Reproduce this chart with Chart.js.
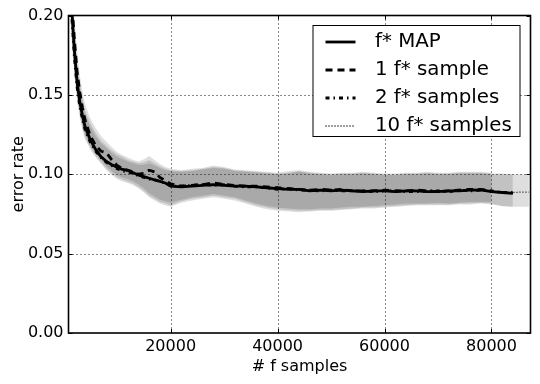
<!DOCTYPE html>
<html><head><meta charset="utf-8">
<script src="https://cdn.jsdelivr.net/npm/chart.js@4.4.1/dist/chart.umd.min.js"></script>
<style>html,body{margin:0;padding:0;background:#fff;}canvas{display:block;}</style>
</head><body>
<canvas id="c" width="540" height="384"></canvas>
<script>
// x positions (# f samples)
const X = [1000,1500,2000,2500,3000,3500,4000,5000,6000,7000,8000,9000,10000,11000,12000,13000,14000,15000,16000,17000,18000,19000,20000,22000,24000,26000,28000,30000,32000,34000,36000,38000,40000,42000,44000,46000,48000,50000,52000,54000,56000,58000,60000,62000,64000,66000,68000,70000,72000,74000,76000,78000,80000,82000,84000,86000,87000];

// error rate series
const mapRate = [0.245,0.205,0.178,0.158,0.146,0.137,0.130,0.1215,0.1155,0.111,0.108,0.106,0.1045,0.103,0.1025,0.101,0.0995,0.0985,0.0975,0.0965,0.0955,0.0945,0.0925,0.092,0.0925,0.093,0.0935,0.093,0.0925,0.0925,0.092,0.0915,0.091,0.0905,0.0905,0.0895,0.090,0.0895,0.090,0.0895,0.089,0.0895,0.0895,0.089,0.0895,0.0895,0.089,0.089,0.0895,0.0895,0.090,0.0902,0.089,0.0885,0.088];
const oneSample = [0.25,0.21,0.185,0.165,0.152,0.142,0.134,0.124,0.118,0.1145,0.1135,0.109,0.1055,0.1035,0.1025,0.1015,0.100,0.1005,0.1025,0.1015,0.098,0.096,0.094,0.0925,0.093,0.0935,0.0945,0.0935,0.093,0.0925,0.0925,0.092,0.0915,0.091,0.0905,0.090,0.0905,0.090,0.0905,0.0895,0.0895,0.0895,0.090,0.0895,0.0895,0.090,0.0895,0.089,0.0895,0.090,0.0905,0.0905,0.0895];
const twoSamples = [0.24,0.2,0.174,0.155,0.143,0.135,0.128,0.12,0.1145,0.1105,0.1075,0.1055,0.1035,0.102,0.1015,0.1005,0.099,0.098,0.097,0.0965,0.0955,0.0945,0.0925,0.0925,0.093,0.0935,0.093,0.0935,0.0925,0.092,0.092,0.0915,0.0905,0.091,0.090,0.090,0.0895,0.090,0.0895,0.0895,0.0895,0.089,0.0895,0.0895,0.089,0.089,0.0895,0.0895,0.089,0.090,0.0895,0.090,0.0895,0.0885,0.0885];
const tenSamples = [0.242,0.203,0.176,0.157,0.145,0.136,0.129,0.121,0.115,0.111,0.108,0.1055,0.104,0.1025,0.102,0.1005,0.0995,0.098,0.0975,0.0965,0.0955,0.094,0.093,0.0925,0.0925,0.093,0.093,0.093,0.0925,0.092,0.092,0.091,0.091,0.0905,0.090,0.090,0.090,0.0895,0.0895,0.0895,0.089,0.089,0.0895,0.089,0.089,0.089,0.089,0.0895,0.0895,0.0895,0.090,0.0895,0.089,0.0885,0.0885,0.0888,0.0888];

// spread bands (upper / lower)
const oneUpper = [0.26,0.225,0.198,0.178,0.163,0.152,0.144,0.135,0.129,0.124,0.1205,0.117,0.114,0.112,0.1105,0.109,0.108,0.1095,0.1115,0.109,0.1065,0.1045,0.1035,0.1025,0.1035,0.104,0.1055,0.1045,0.103,0.1025,0.102,0.1015,0.101,0.102,0.1025,0.1015,0.101,0.1005,0.101,0.101,0.1015,0.101,0.1005,0.1005,0.101,0.101,0.1015,0.101,0.101,0.1015,0.1015,0.1015,0.101];
const oneLower = [0.225,0.19,0.168,0.151,0.14,0.131,0.125,0.118,0.113,0.109,0.105,0.102,0.0995,0.098,0.097,0.0955,0.0935,0.091,0.088,0.086,0.084,0.083,0.082,0.084,0.0855,0.0865,0.0875,0.0865,0.0855,0.0835,0.0815,0.080,0.079,0.0785,0.078,0.078,0.0785,0.0785,0.079,0.0795,0.0795,0.080,0.0805,0.081,0.0815,0.0815,0.0815,0.082,0.0815,0.082,0.0825,0.0825,0.0825];
const twoUpper = [0.25,0.215,0.19,0.171,0.158,0.148,0.14,0.132,0.126,0.121,0.118,0.115,0.1125,0.111,0.109,0.108,0.107,0.1075,0.109,0.107,0.105,0.1035,0.1025,0.102,0.1025,0.1035,0.1045,0.104,0.1025,0.102,0.1015,0.101,0.1005,0.101,0.102,0.101,0.1005,0.100,0.1005,0.1005,0.101,0.1005,0.100,0.100,0.1005,0.1005,0.101,0.1005,0.1005,0.101,0.101,0.101,0.1005,0.1005,0.100];
const twoLower = [0.22,0.186,0.165,0.148,0.138,0.129,0.123,0.1165,0.1115,0.1075,0.1035,0.1005,0.098,0.0965,0.0955,0.094,0.092,0.0895,0.0865,0.0845,0.0825,0.0815,0.0805,0.083,0.0845,0.0855,0.0865,0.0855,0.0845,0.0825,0.0805,0.079,0.078,0.0775,0.077,0.077,0.0775,0.0775,0.078,0.0785,0.079,0.079,0.0795,0.080,0.0805,0.081,0.081,0.081,0.081,0.0815,0.0815,0.082,0.0815,0.080,0.0795];
const tenUpper = [0.245,0.21,0.186,0.168,0.155,0.145,0.138,0.13,0.124,0.1195,0.1165,0.1135,0.111,0.1095,0.108,0.107,0.106,0.106,0.107,0.1055,0.104,0.1025,0.102,0.1015,0.102,0.103,0.104,0.1035,0.102,0.1015,0.101,0.1005,0.100,0.1005,0.1015,0.1005,0.100,0.0995,0.100,0.100,0.1005,0.100,0.0995,0.0995,0.100,0.100,0.1005,0.100,0.100,0.1005,0.1005,0.1005,0.100,0.100,0.100,0.100,0.100];
const tenLower = [0.215,0.183,0.162,0.146,0.136,0.128,0.122,0.1155,0.1105,0.1065,0.1025,0.0995,0.097,0.0955,0.0945,0.093,0.091,0.0885,0.0855,0.0835,0.0815,0.0805,0.0795,0.082,0.0835,0.0845,0.0855,0.0845,0.0835,0.0815,0.0795,0.078,0.077,0.0765,0.076,0.0765,0.077,0.077,0.0775,0.078,0.0785,0.0785,0.079,0.0795,0.080,0.0805,0.0805,0.0805,0.0805,0.081,0.081,0.0815,0.081,0.0798,0.0795,0.0795,0.0795];

const seriesLabels = ['f* MAP','1 f* sample','2 f* samples','10 f* samples'];
const xTicks = [20000,40000,60000,80000];
const yTicks = [0,0.05,0.10,0.15,0.20];

const FONT = "'DejaVu Sans', sans-serif";
const pts = arr => arr.map((v,i)=>({x:X[i], y:v}));
const BAND = 'rgba(0,0,0,0.13)';

function band(up, lo){
  return [
    {isBand:true, data:pts(up), fill:'+1', backgroundColor:BAND, borderColor:'rgba(0,0,0,0)', borderWidth:0, pointRadius:0, order:1, clip:0},
    {isBand:true, data:pts(lo), fill:false, backgroundColor:'rgba(0,0,0,0)', borderColor:'rgba(0,0,0,0)', borderWidth:0, pointRadius:0, order:1, clip:0}
  ];
}
function line(label, arr, width, dash){
  return {label, data:pts(arr), borderColor:'#000', borderWidth:width, borderDash:dash, pointRadius:0, fill:false, order:0, clip:0, tension:0, borderJoinStyle:'round'};
}

const datasets = [
  line(seriesLabels[0], mapRate, 2.8, []),
  line(seriesLabels[1], oneSample, 2.8, [7,5]),
  line(seriesLabels[2], twoSamples, 2.8, [4,4,1.5,4]),
  line(seriesLabels[3], tenSamples, 1.3, [1,2]),
  ...band(oneUpper, oneLower),
  ...band(twoUpper, twoLower),
  ...band(tenUpper, tenLower)
];

function drawGrid(chart){
  const {ctx, chartArea:a, scales:{x, y}} = chart;
  ctx.save();
  ctx.beginPath(); ctx.rect(a.left, a.top, a.right-a.left, a.bottom-a.top); ctx.clip();
  ctx.strokeStyle = '#111'; ctx.lineWidth = 1; ctx.setLineDash([1,3]);
  x.ticks.forEach(t => {
    const px = Math.round(x.getPixelForValue(t.value)) + 0.5;
    ctx.beginPath(); ctx.moveTo(px, a.top); ctx.lineTo(px, a.bottom); ctx.stroke();
  });
  y.ticks.forEach(t => {
    if (t.value <= y.min || t.value >= y.max) return;
    const py = Math.round(y.getPixelForValue(t.value)) + 0.5;
    ctx.beginPath(); ctx.moveTo(a.left, py); ctx.lineTo(a.right, py); ctx.stroke();
  });
  ctx.restore();
}

const decor = {
  id: 'decor',
  beforeDraw(chart){ chart.$gridDone = false; },
  beforeDatasetDraw(chart, args){
    if (chart.$gridDone) return;
    if (chart.data.datasets[args.index].isBand) return;
    chart.$gridDone = true;
    drawGrid(chart);
  },
  afterDatasetsDraw(chart){ if (!chart.$gridDone){ chart.$gridDone = true; drawGrid(chart); } },
  afterDraw(chart){
    const {ctx, chartArea:a, scales:{x, y}} = chart;
    ctx.save();
    ctx.setLineDash([]);
    ctx.strokeStyle = '#000';
    ctx.lineWidth = 1;
    x.ticks.forEach(t => {
      const px = Math.round(x.getPixelForValue(t.value)) + 0.5;
      ctx.beginPath(); ctx.moveTo(px, a.bottom); ctx.lineTo(px, a.bottom-4);
      ctx.moveTo(px, a.top); ctx.lineTo(px, a.top+4); ctx.stroke();
    });
    y.ticks.forEach(t => {
      const py = Math.round(y.getPixelForValue(t.value)) + 0.5;
      ctx.beginPath(); ctx.moveTo(a.left, py); ctx.lineTo(a.left+4, py);
      ctx.moveTo(a.right, py); ctx.lineTo(a.right-4, py); ctx.stroke();
    });
    ctx.lineWidth = 1.6;
    ctx.strokeRect(a.left, a.top, a.right-a.left, a.bottom-a.top);
    // legend
    const bx = a.left + 244.5, by = 25.5, bw = 207, bh = 111;
    ctx.fillStyle = '#fff'; ctx.fillRect(bx, by, bw, bh);
    ctx.lineWidth = 1; ctx.strokeRect(bx, by, bw, bh);
    const lines = chart.data.datasets.filter(d => !d.isBand);
    lines.forEach((d, i) => {
      const yy = by + 16.5 + i*28;
      ctx.beginPath();
      ctx.setLineDash(d.borderDash || []);
      ctx.lineWidth = d.borderWidth; ctx.strokeStyle = d.borderColor;
      ctx.moveTo(bx + 12.5, yy); ctx.lineTo(bx + 42.5, yy); ctx.stroke();
      ctx.setLineDash([]);
      ctx.fillStyle = '#000'; ctx.font = "19.8px " + FONT;
      ctx.textBaseline = 'middle'; ctx.textAlign = 'left';
      ctx.fillText(d.label, bx + 62, yy);
    });
    ctx.restore();
  }
};

new Chart(document.getElementById('c'), {
  type: 'line',
  data: { datasets },
  options: {
    responsive: false, animation: false, devicePixelRatio: 1,
    layout: { padding: { top: 15.5, right: 9.5, left: 0, bottom: 0 } },
    plugins: { legend: { display: false }, tooltip: { enabled: false } },
    scales: {
      x: {
        type: 'linear', min: 900, max: 87300,
        afterBuildTicks: s => { s.ticks = xTicks.map(v => ({ value: v })); },
        afterFit: s => { s.height = 51; },
        grid: { display: false, drawTicks: false },
        border: { display: false },
        ticks: { color: '#000', padding: 4, maxRotation: 0, font: { family: FONT, size: 16 }, callback: v => String(v) },
        title: { display: true, text: '# f samples', color: '#000', font: { family: FONT, size: 16 }, padding: { top: 0, bottom: 8 } }
      },
      y: {
        type: 'linear', min: 0, max: 0.2,
        afterBuildTicks: s => { s.ticks = yTicks.map(v => ({ value: v })); },
        afterFit: s => { s.width = 68.5; },
        grid: { display: false, drawTicks: false },
        border: { display: false },
        ticks: { color: '#000', padding: 5, font: { family: FONT, size: 16 }, callback: v => Number(v).toFixed(2) },
        title: { display: true, text: 'error rate', color: '#000', font: { family: FONT, size: 16 }, padding: { top: 9, bottom: 0 } }
      }
    }
  },
  plugins: [decor]
});
</script>
</body></html>
